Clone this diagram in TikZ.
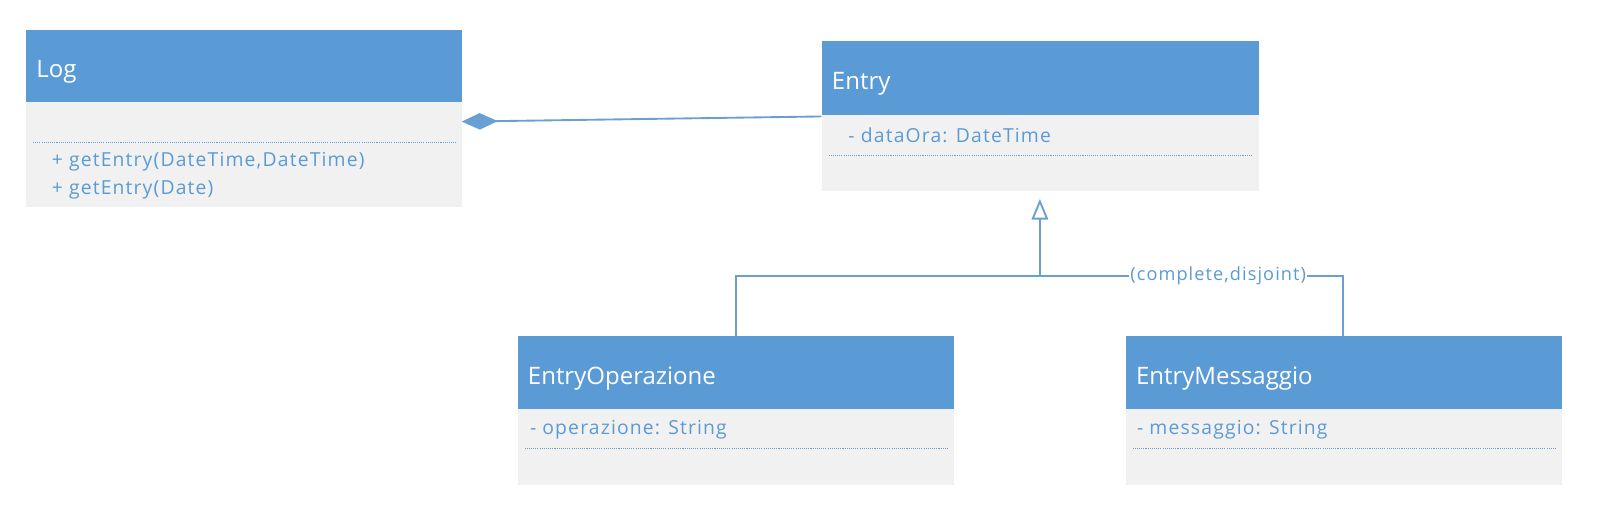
\documentclass[tikz,border=0pt]{standalone}
\usepackage{fontspec}
\setmainfont{Open Sans}
\newfontfamily\memberfont[LetterSpace=6]{Open Sans}
\usetikzlibrary{arrows.meta}
\newlength\pxl
\setlength\pxl{0.77296pt}
\definecolor{hdrblue}{HTML}{5B9BD5}
\definecolor{bodygray}{HTML}{F1F1F1}
\definecolor{txtblue}{HTML}{5B9BD5}
\definecolor{lineblue}{HTML}{6A9FD3}
\tikzset{
  hdr/.style={fill=hdrblue, draw=none, anchor=north west, minimum height=70\pxl,
    inner xsep=10\pxl, inner ysep=0pt, align=left, text=white,
    text height=17pt, text depth=0pt,
    font=\fontsize{18pt}{20pt}\selectfont},
  bodybox/.style={fill=bodygray, draw=none, anchor=north west, inner sep=0pt},
  member/.style={anchor=west, inner sep=0pt, text=txtblue, font=\memberfont\fontsize{14.5pt}{16pt}\selectfont},
  sep/.style={draw=lineblue, line width=0.8pt, dash pattern=on 0.8pt off 0.8pt},
  conn/.style={draw=lineblue, line width=1.4pt},
}
\begin{document}
\begin{tikzpicture}[x=0.77296pt,y=-0.77296pt]
\useasboundingbox (0,0) rectangle (1568,513.3);
% Log
\node[hdr, minimum width=423\pxl, text width=403\pxl] (logH) at (25,29) {Log};
\node[bodybox, minimum width=423\pxl, minimum height=102\pxl] (logB) at (25,99) {};
\draw[sep] (32,138) -- (442,138);
\node[member] (logM1) at (50,157) {+ getEntry(DateTime,DateTime)};
\node[member] (logM2) at (50,184) {+ getEntry(Date)};
% Entry
\node[hdr, minimum width=424\pxl, minimum height=71\pxl, text width=404\pxl] (entH) at (797,40) {Entry};
\node[bodybox, minimum width=424\pxl, minimum height=74\pxl] (entB) at (797,111) {};
\node[member] (entA) at (823,131) {- dataOra: DateTime};
\draw[sep] (804,151) -- (1214,151);
% EntryOperazione
\node[hdr, minimum width=423\pxl, minimum height=71\pxl, text width=403\pxl] (opH) at (502,326) {EntryOperazione};
\node[bodybox, minimum width=423\pxl, minimum height=73\pxl] (opB) at (502,397) {};
\node[member] (opA) at (514,417) {- operazione: String};
\draw[sep] (509,435) -- (919,435);
% EntryMessaggio
\node[hdr, minimum width=423\pxl, minimum height=71\pxl, text width=403\pxl] (msH) at (1092,326) {EntryMessaggio};
\node[bodybox, minimum width=423\pxl, minimum height=73\pxl] (msB) at (1092,397) {};
\node[member] (msA) at (1103,417) {- messaggio: String};
\draw[sep] (1099,435) -- (1509,435);
% composition
\coordinate (compS) at (797,113);
\coordinate (compE) at (448,118);
\draw[conn, -{Diamond[length=27pt, width=12.4pt, fill=lineblue]}] (compS) -- (compE);
% generalization
\coordinate (genTip) at (1009,193);
\coordinate (genJ) at (1009,268);
\coordinate (opTop) at (714,268);
\coordinate (msTop) at (1303,268);
\draw[conn] (opH.north -| opTop) -- (opTop) -- (msTop) -- (msH.north -| msTop);
\draw[conn, -{Triangle[open, length=15.5pt, width=12.4pt, fill=white]}] (genJ) -- (genTip);
\node[fill=white, inner xsep=1pt, inner ysep=1pt, text=txtblue, font=\memberfont\fontsize{13.6pt}{15pt}\selectfont] (gs) at (1182,268) {(complete,disjoint)};
\end{tikzpicture}
\end{document}
